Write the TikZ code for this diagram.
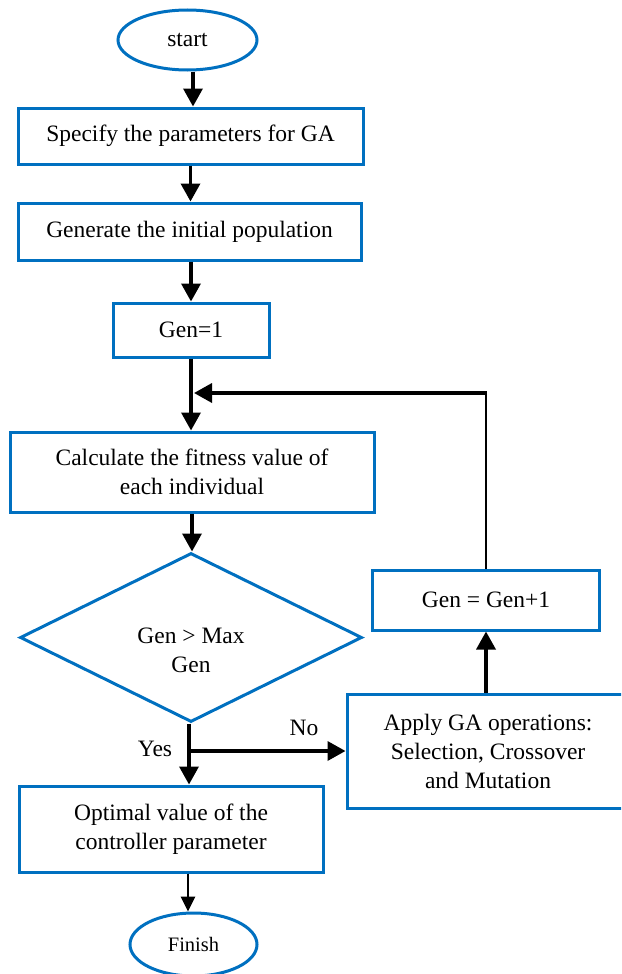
\documentclass[tikz,border=0pt]{standalone}
\usepackage{fontspec}
\setmainfont{Liberation Serif}
\usetikzlibrary{shapes.geometric,arrows.meta}
\definecolor{flowblue}{RGB}{0,112,192}
\begin{document}
\begin{tikzpicture}[x=1pt,y=-1pt,
  every node/.style={font=\fontsize{23.5}{29}\selectfont, inner sep=0pt, align=center},
  procbox/.style={draw=flowblue, line width=3pt, rectangle},
  termnode/.style={draw=flowblue, line width=3pt, ellipse},
  decnode/.style={draw=flowblue, line width=3pt, diamond},
  arr/.style={line width=3.5pt, -{Triangle[length=18pt,width=19pt]}},
  arrsmall/.style={line width=2.8pt, -{Triangle[length=15pt,width=14pt]}},
  thinline/.style={line width=2pt},
  thickline/.style={line width=3.5pt},
  lbl/.style={font=\fontsize{23.5}{29}\selectfont}
]
\clip (0,0) rectangle (621,974);
\fill[white] (0,0) rectangle (621,974);

\node[termnode, minimum width=139pt, minimum height=60pt] (start) at (187.5,40) {start};
\node[procbox, minimum width=345pt, minimum height=56pt] (box1) at (190.5,136) {Specify the parameters for GA};
\node[procbox, minimum width=343pt, minimum height=57pt] (box2) at (189.5,231.5) {Generate the initial population};
\node[procbox, minimum width=156pt, minimum height=54pt] (box3) at (191,330) {Gen=1};
\node[procbox, minimum width=364pt, minimum height=80pt] (box4) at (192,472) {Calculate the fitness value of\\each individual};
\node[decnode, minimum width=342pt, minimum height=169pt] (dia) at (191,637.5) {};
\node (diatext) at (191,650) {Gen > Max\\Gen};
\node[procbox, minimum width=227pt, minimum height=60pt] (gen1) at (486,600) {Gen = Gen+1};
\node[procbox, minimum width=282pt, minimum height=114pt] (apply) at (488,751) {Apply GA operations:\\Selection, Crossover\\and Mutation};
\node[procbox, minimum width=304pt, minimum height=86pt] (opt) at (171,829) {Optimal value of the\\controller parameter};
\node[termnode, minimum width=127pt, minimum height=63pt, font=\fontsize{20.5}{24}\selectfont] (finish) at (193.5,944.5) {Finish};

\node[lbl] (yes) at (155,749) {Yes};
\node[lbl] (no) at (304,728) {No};

\coordinate (lp) at (486,393);
\coordinate (br) at (189,751);

\draw[arr] ([xshift=5.5pt]start.south) -- ([xshift=5.5pt]start.south |- box1.north);
\draw[arr] (box1.south) -- (box1.south |- box2.north);
\draw[arr] (box3.north |- box2.south) -- (box3.north);
\draw[arr] (box3.south) -- (box3.south |- box4.north);
\draw[thinline] (gen1.north) -- (lp);
\draw[arr] ([xshift=1pt]lp) -- ([xshift=3pt]box3.south |- lp);
\draw[arr] (box4.south) -- (box4.south |- dia.north);
\draw[arr] (dia.south -| br) -- (br |- opt.north);
\draw[arr] (br) -- (br -| apply.west);
\draw[arr] (gen1.south |- apply.north) -- (gen1.south);
\draw[arrsmall] ([xshift=17pt]opt.south) -- ([xshift=17pt]opt.south |- finish.north);
\end{tikzpicture}
\end{document}
